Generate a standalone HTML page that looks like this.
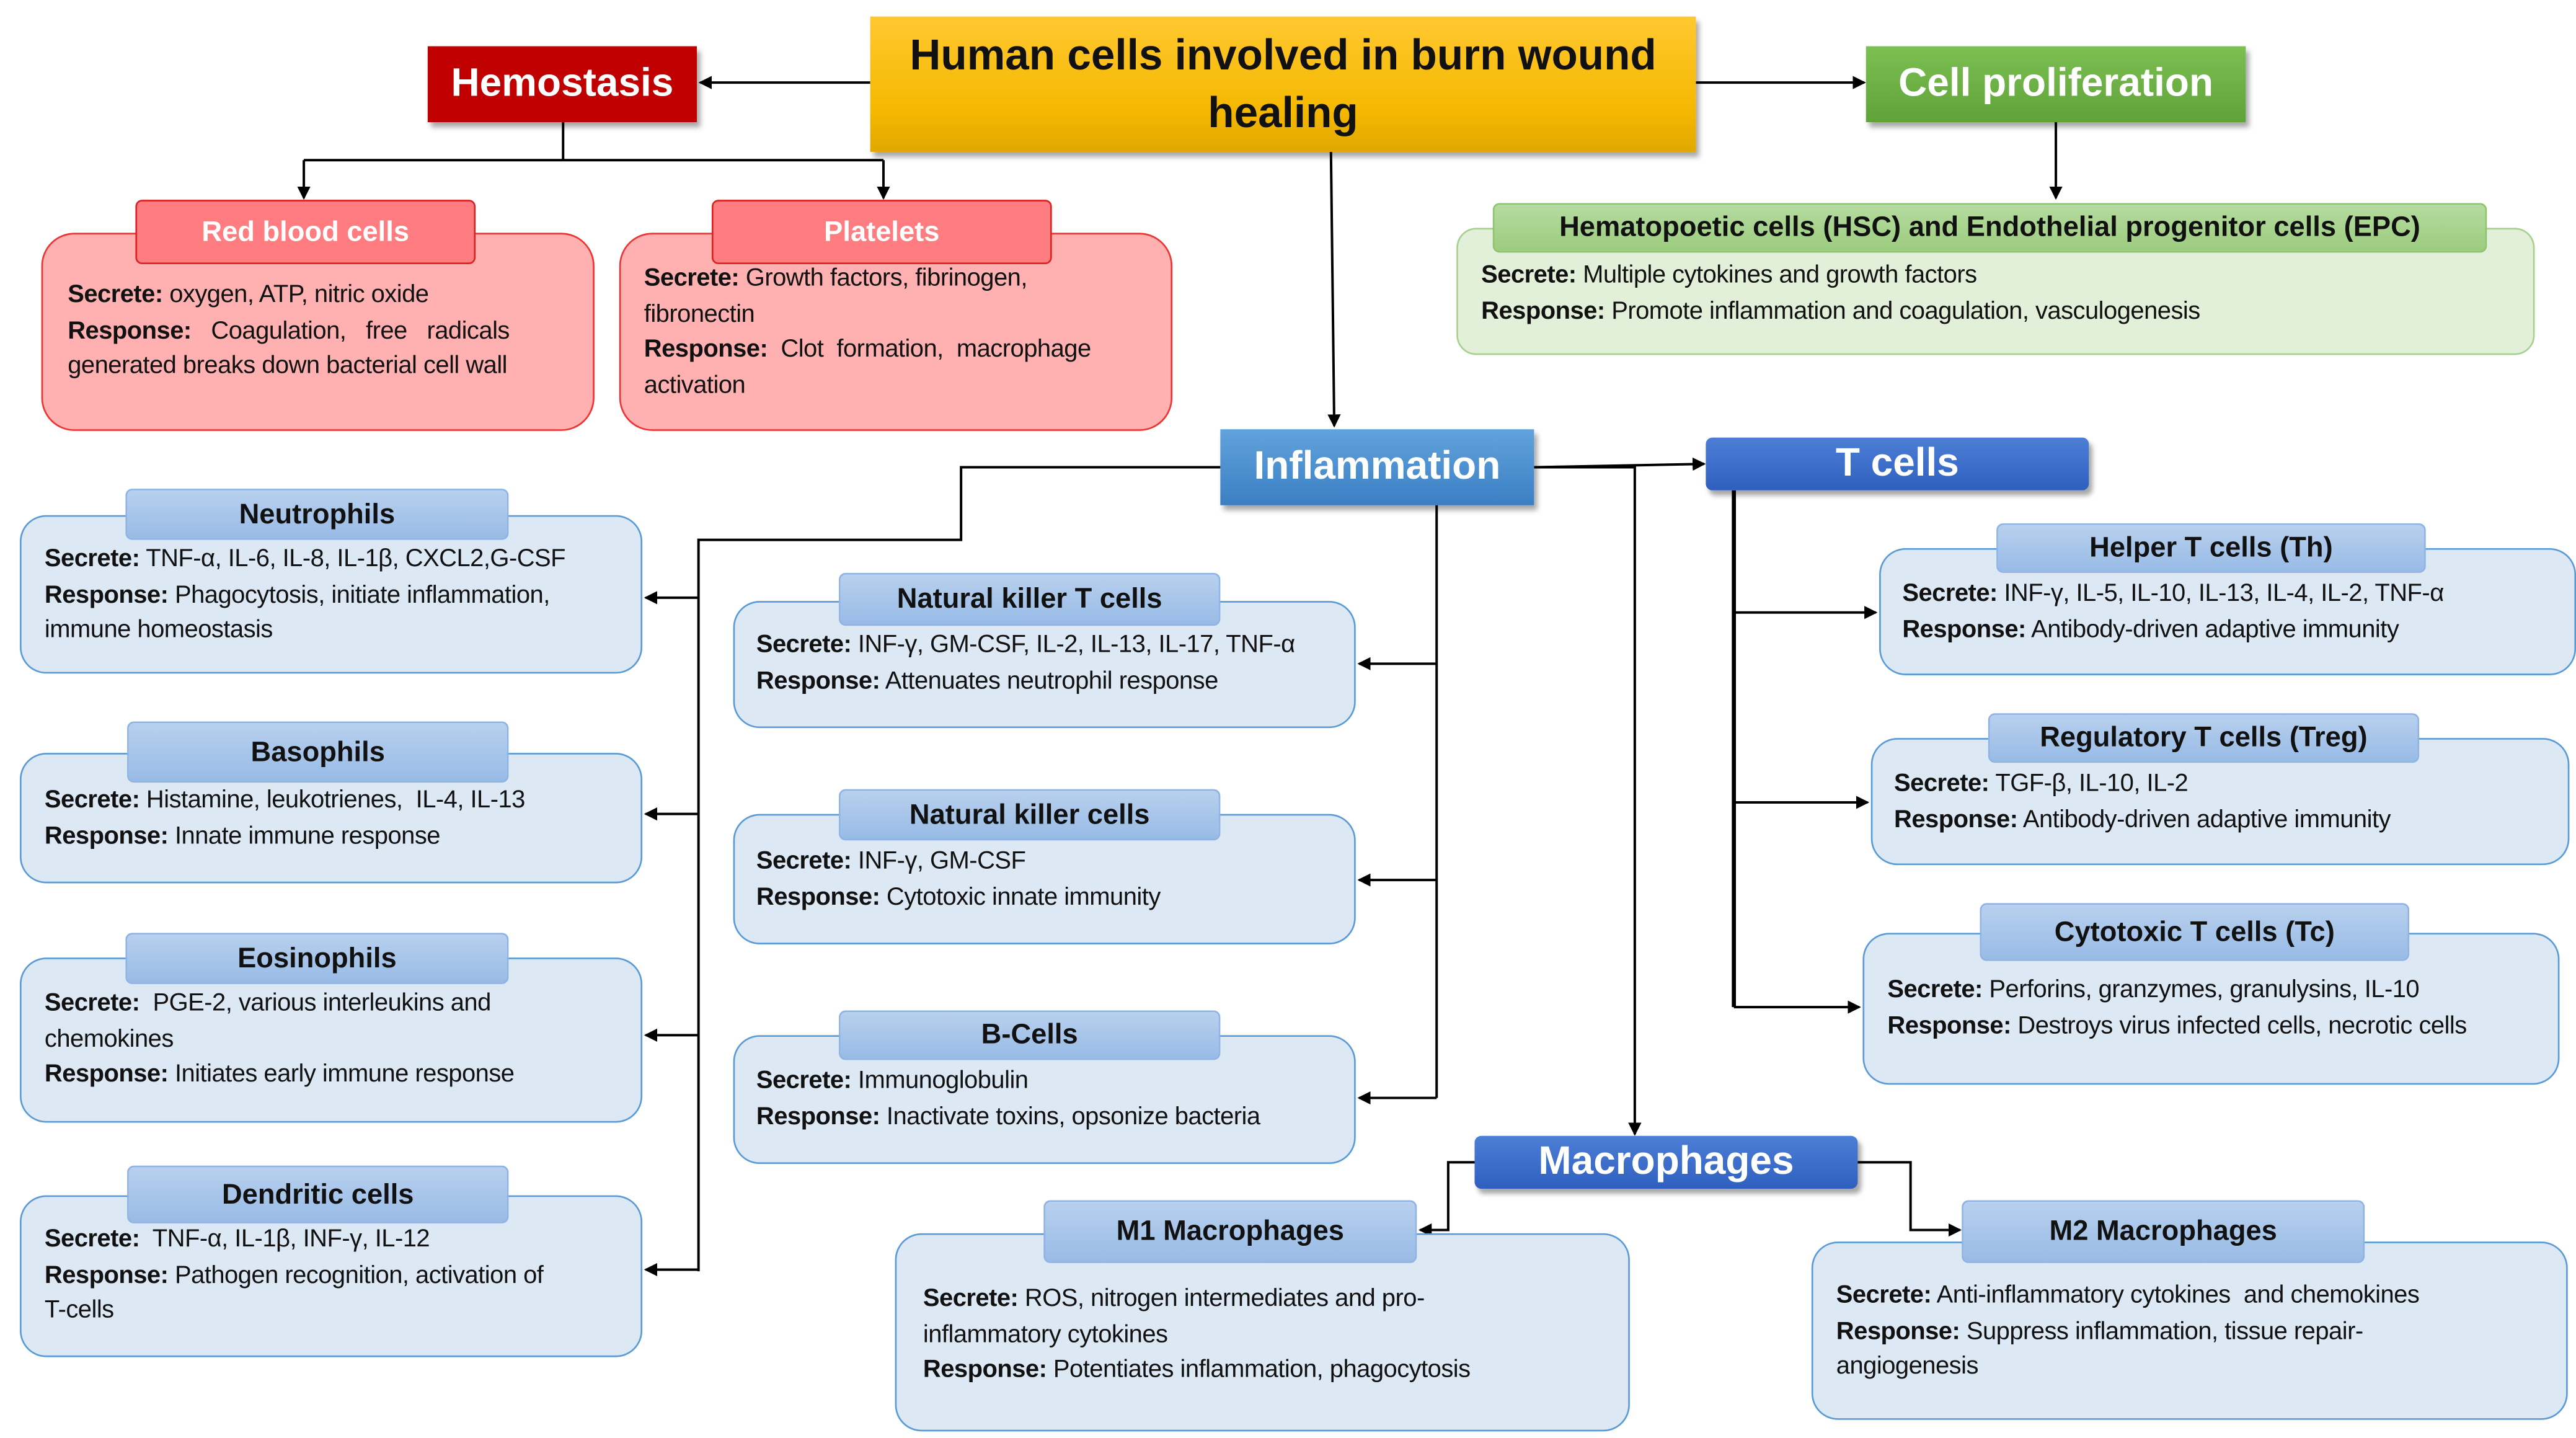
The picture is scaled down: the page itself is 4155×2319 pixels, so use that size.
<!DOCTYPE html>
<html><head><meta charset="utf-8"><style>
body{margin:0;width:4155px;height:2319px;overflow:hidden;background:#fff;}
#w{position:absolute;left:0;top:0;width:1560px;height:871px;transform:scale(2.6635,2.6625);transform-origin:0 0;font-family:"Liberation Sans",sans-serif;}
.a{position:absolute;box-sizing:border-box;}
.big{display:flex;align-items:center;justify-content:center;color:#fff;font-weight:bold;font-size:24px;box-shadow:2px 3px 3px rgba(0,0,0,.35);}
.bb{background:#dde8f5;border:1.5px solid #5b9bd5;border-radius:16px;}
.bh{background:linear-gradient(#b8d0ee,#98bbe6);border:1px solid #8fb4e3;border-radius:4px;display:flex;align-items:center;justify-content:center;font-weight:bold;font-size:17px;color:#111;}
.rb{background:#ffb1b1;border:1.5px solid #e33;border-radius:20px;}
.rh{background:#ff7c80;border:1.5px solid #d22;border-radius:4px;display:flex;align-items:center;justify-content:center;font-weight:bold;font-size:17px;color:#fff;}
.t{position:absolute;font-size:15px;line-height:21.5px;color:#111;white-space:nowrap;letter-spacing:-0.2px;}
.t b{font-weight:bold;}
</style></head><body><div id="w">
<svg class="a" style="left:0;top:0" width="1560" height="871">
<defs><marker id="m" markerWidth="8" markerHeight="8" refX="7" refY="4" orient="auto" markerUnits="userSpaceOnUse"><path d="M0,0L8,4L0,8z" fill="#000"/></marker></defs>
<g stroke="#000" stroke-width="1.5" fill="none">
<path d="M527,50H424" marker-end="url(#m)"/>
<path d="M1027,50H1129" marker-end="url(#m)"/>
<path d="M341,74V97M184,97H535"/>
<path d="M184,97V120" marker-end="url(#m)"/><path d="M535,97V120" marker-end="url(#m)"/>
<path d="M1245,74V120" marker-end="url(#m)"/>
<path d="M806,92L808,258" marker-end="url(#m)"/>
<path d="M739,283H582V327H423V770"/>
<path d="M423,362H391" marker-end="url(#m)"/><path d="M423,493H391" marker-end="url(#m)"/>
<path d="M423,627H391" marker-end="url(#m)"/><path d="M423,769H391" marker-end="url(#m)"/>
<path d="M870,306V665"/>
<path d="M870,402H823" marker-end="url(#m)"/><path d="M870,533H823" marker-end="url(#m)"/><path d="M870,665H823" marker-end="url(#m)"/>
<path d="M929,283L1032,281" marker-end="url(#m)"/>
<path d="M929,283H990V687" marker-end="url(#m)"/>
<path d="M1050,297V610" stroke-width="2.5"/>
<path d="M1050,371H1136" marker-end="url(#m)"/><path d="M1050,486H1131" marker-end="url(#m)"/><path d="M1050,610H1126" marker-end="url(#m)"/>
<path d="M893,704H877V745H860" marker-end="url(#m)"/>
<path d="M1125,704H1157V745H1187" marker-end="url(#m)"/>
</g></svg>

<div class="a big" style="left:527px;top:10px;width:500px;height:82px;background:linear-gradient(#ffc830,#f5b800 70%,#e0a800);color:#111;font-size:26px;line-height:35px;text-align:center;">Human cells involved in burn wound<br>healing</div>
<div class="a big" style="left:259px;top:28px;width:163px;height:46px;background:#c00000;">Hemostasis</div>
<div class="a big" style="left:1130px;top:28px;width:230px;height:46px;background:linear-gradient(#7cc052,#5fa23a);">Cell proliferation</div>
<div class="a big" style="left:739px;top:260px;width:190px;height:46px;background:linear-gradient(#62a3dc,#3b7fc4);">Inflammation</div>
<div class="a big" style="left:1033px;top:265px;width:232px;height:32px;background:linear-gradient(#4d7fd6,#2e5fbf);border-radius:4px;">T cells</div>
<div class="a big" style="left:893px;top:688px;width:232px;height:32px;background:linear-gradient(#4d7fd6,#2e5fbf);border-radius:4px;">Macrophages</div>

<div class="a rb" style="left:25px;top:141px;width:335px;height:120px;"></div>
<div class="a rh" style="left:82px;top:121px;width:206px;height:39px;">Red blood cells</div>
<div class="t" style="left:41px;top:168px;"><b>Secrete:</b> oxygen, ATP, nitric oxide<br><b>Response:</b>&nbsp;&nbsp; Coagulation,&nbsp;&nbsp; free&nbsp;&nbsp; radicals<br>generated breaks down bacterial cell wall</div>
<div class="a rb" style="left:375px;top:141px;width:335px;height:120px;"></div>
<div class="a rh" style="left:431px;top:121px;width:206px;height:39px;">Platelets</div>
<div class="t" style="left:390px;top:158px;"><b>Secrete:</b> Growth factors, fibrinogen,<br>fibronectin<br><b>Response:</b>&nbsp; Clot&nbsp; formation,&nbsp; macrophage<br>activation</div>

<div class="a" style="left:882px;top:138px;width:653px;height:77px;background:#e2f0d9;border:1.5px solid #a9d18e;border-radius:12px;"></div>
<div class="a bh" style="left:904px;top:123px;width:602px;height:30px;background:linear-gradient(#b5dba0,#9ccc7e);border-color:#8fc46e;">Hematopoetic cells (HSC) and Endothelial progenitor cells (EPC)</div>
<div class="t" style="left:897px;top:156px;"><b>Secrete:</b> Multiple cytokines and growth factors<br><b>Response:</b> Promote inflammation and coagulation, vasculogenesis</div>

<div class="a bb" style="left:12px;top:312px;width:377px;height:96px;"></div>
<div class="a bh" style="left:76px;top:296px;width:232px;height:31px;">Neutrophils</div>
<div class="t" style="left:27px;top:328px;"><b>Secrete:</b> TNF-α, IL-6, IL-8, IL-1β, CXCL2,G-CSF<br><b>Response:</b> Phagocytosis, initiate inflammation,<br>immune homeostasis</div>

<div class="a bb" style="left:12px;top:456px;width:377px;height:79px;"></div>
<div class="a bh" style="left:77px;top:437px;width:231px;height:37px;">Basophils</div>
<div class="t" style="left:27px;top:474px;"><b>Secrete:</b> Histamine, leukotrienes,&nbsp; IL-4, IL-13<br><b>Response:</b> Innate immune response</div>

<div class="a bb" style="left:12px;top:580px;width:377px;height:100px;"></div>
<div class="a bh" style="left:76px;top:565px;width:232px;height:31px;">Eosinophils</div>
<div class="t" style="left:27px;top:597px;"><b>Secrete:</b>&nbsp; PGE-2, various interleukins and<br>chemokines<br><b>Response:</b> Initiates early immune response</div>

<div class="a bb" style="left:12px;top:724px;width:377px;height:98px;"></div>
<div class="a bh" style="left:77px;top:706px;width:231px;height:35px;">Dendritic cells</div>
<div class="t" style="left:27px;top:740px;"><b>Secrete:</b>&nbsp; TNF-α, IL-1β, INF-γ, IL-12<br><b>Response:</b> Pathogen recognition, activation of<br>T-cells</div>

<div class="a bb" style="left:444px;top:364px;width:377px;height:77px;"></div>
<div class="a bh" style="left:508px;top:347px;width:231px;height:32px;">Natural killer T cells</div>
<div class="t" style="left:458px;top:380px;"><b>Secrete:</b> INF-γ, GM-CSF, IL-2, IL-13, IL-17, TNF-α<br><b>Response:</b> Attenuates neutrophil response</div>

<div class="a bb" style="left:444px;top:493px;width:377px;height:79px;"></div>
<div class="a bh" style="left:508px;top:478px;width:231px;height:31px;">Natural killer cells</div>
<div class="t" style="left:458px;top:511px;"><b>Secrete:</b> INF-γ, GM-CSF<br><b>Response:</b> Cytotoxic innate immunity</div>

<div class="a bb" style="left:444px;top:627px;width:377px;height:78px;"></div>
<div class="a bh" style="left:508px;top:612px;width:231px;height:30px;">B-Cells</div>
<div class="t" style="left:458px;top:644px;"><b>Secrete:</b> Immunoglobulin<br><b>Response:</b> Inactivate toxins, opsonize bacteria</div>

<div class="a bb" style="left:1138px;top:332px;width:422px;height:77px;"></div>
<div class="a bh" style="left:1209px;top:317px;width:260px;height:30px;">Helper T cells (Th)</div>
<div class="t" style="left:1152px;top:349px;"><b>Secrete:</b> INF-γ, IL-5, IL-10, IL-13, IL-4, IL-2, TNF-α<br><b>Response:</b> Antibody-driven adaptive immunity</div>

<div class="a bb" style="left:1133px;top:447px;width:423px;height:77px;"></div>
<div class="a bh" style="left:1204px;top:432px;width:261px;height:30px;">Regulatory T cells (Treg)</div>
<div class="t" style="left:1147px;top:464px;"><b>Secrete:</b> TGF-β, IL-10, IL-2<br><b>Response:</b> Antibody-driven adaptive immunity</div>

<div class="a bb" style="left:1128px;top:565px;width:422px;height:92px;"></div>
<div class="a bh" style="left:1199px;top:547px;width:260px;height:35px;">Cytotoxic T cells (Tc)</div>
<div class="t" style="left:1143px;top:589px;"><b>Secrete:</b> Perforins, granzymes, granulysins, IL-10<br><b>Response:</b> Destroys virus infected cells, necrotic cells</div>

<div class="a bb" style="left:542px;top:747px;width:445px;height:120px;"></div>
<div class="a bh" style="left:632px;top:727px;width:226px;height:38px;">M1 Macrophages</div>
<div class="t" style="left:559px;top:776px;"><b>Secrete:</b> ROS, nitrogen intermediates and pro-<br>inflammatory cytokines<br><b>Response:</b> Potentiates inflammation, phagocytosis</div>

<div class="a bb" style="left:1097px;top:752px;width:458px;height:108px;"></div>
<div class="a bh" style="left:1188px;top:727px;width:244px;height:38px;">M2 Macrophages</div>
<div class="t" style="left:1112px;top:774px;"><b>Secrete:</b> Anti-inflammatory cytokines&nbsp; and chemokines<br><b>Response:</b> Suppress inflammation, tissue repair-<br>angiogenesis</div>
</div></body></html>
